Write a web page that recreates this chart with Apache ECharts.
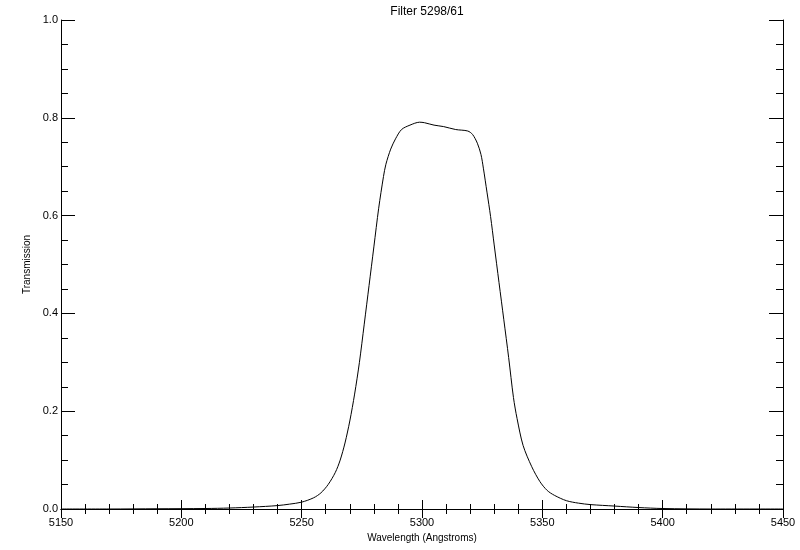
<!DOCTYPE html>
<html>
<head>
<meta charset="utf-8">
<script src="https://cdn.jsdelivr.net/npm/echarts@6/dist/echarts.min.js"></script>
<style>html,body{margin:0;padding:0;background:#fff;}#c{width:800px;height:550px;}</style>
</head>
<body>
<div id="c"></div>
<script>
var titleText = 'Filter 5298/61';
var xName = 'Wavelength (Angstroms)';
var yName = 'Transmission';
var wavelength = [5150,5170,5190,5210,5220,5230,5240,5245,5250,5255,5258,5261,5264,5266,5268,5270,5272,5274,5276,5278,5280,5282,5284,5285,5287,5289,5291.5,5295,5299,5301,5305,5309,5314,5319,5321,5323,5324.5,5325.5,5327,5328.5,5330,5332,5334,5336,5338,5339.5,5342,5345.6,5349,5352,5355,5360,5365,5370,5380,5390,5400,5420,5450];
var transmission = [0,0,0.0005,0.001,0.002,0.004,0.007,0.010,0.014,0.023,0.033,0.050,0.075,0.100,0.135,0.180,0.235,0.300,0.378,0.457,0.536,0.615,0.680,0.705,0.736,0.757,0.776,0.785,0.791,0.790,0.785,0.782,0.776,0.773,0.766,0.748,0.725,0.697,0.648,0.598,0.540,0.463,0.387,0.310,0.228,0.185,0.130,0.0865,0.056,0.038,0.028,0.017,0.012,0.009,0.006,0.003,0.001,0,0];

var pts = wavelength.map(function(w,i){return [w, transmission[i]];});
var font = 'Liberation Sans';
var chart = echarts.init(document.getElementById('c'));
function xAx(pos, showLabel){
  return {type:'value', position:pos, min:5150, max:5450, interval:50,
    axisLine:{show:true,lineStyle:{color:'#000',width:1}},
    axisTick:{show:true,inside:true,length:9,lineStyle:{color:'#000'}},
    minorTick:{show:true,splitNumber:5,length:5,lineStyle:{color:'#000'}},
    splitLine:{show:false},
    axisLabel:{show:showLabel,color:'#000',fontFamily:font,fontSize:11,margin:8,
      formatter:function(v){return String(v);}},
    name: showLabel ? xName : '', nameLocation:'middle', nameGap:24,
    nameTextStyle:{color:'#000',fontFamily:font,fontSize:10}};
}
function yAx(pos, showLabel){
  return {type:'value', position:pos, min:0, max:1, interval:0.2,
    axisLine:{show:true,lineStyle:{color:'#000',width:1}},
    axisTick:{show:true,inside:true,length:14,lineStyle:{color:'#000'}},
    minorTick:{show:true,splitNumber:4,length:7,lineStyle:{color:'#000'}},
    splitLine:{show:false},
    axisLabel:{show:showLabel,color:'#000',fontFamily:font,fontSize:11,margin:3,
      formatter:function(v){return v.toFixed(1);}},
    name: showLabel ? yName : '', nameLocation:'middle', nameGap:26,
    nameTextStyle:{color:'#000',fontFamily:font,fontSize:10}};
}
chart.setOption({
  animation:false,
  backgroundColor:'#fff',
  title:{text:titleText,left:422,textAlign:'center',top:1,
    textStyle:{color:'#000',fontFamily:font,fontSize:12,fontWeight:'normal'}},
  grid:{left:61,right:17,top:20,bottom:41},
  xAxis:[xAx('bottom',true), xAx('top',false)],
  yAxis:[yAx('left',true), yAx('right',false)],
  series:[{type:'line',data:pts,xAxisIndex:0,yAxisIndex:0,showSymbol:false,smooth:0.3,
    lineStyle:{color:'#000',width:1}}]
});
</script>
</body>
</html>
